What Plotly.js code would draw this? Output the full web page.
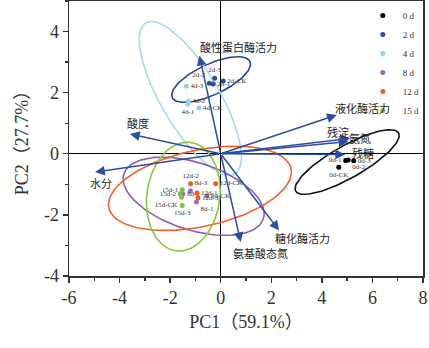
<!DOCTYPE html>
<html><head><meta charset="utf-8">
<script src="https://cdn.plot.ly/plotly-3.0.1.min.js"></script>
<style>html,body{margin:0;padding:0;background:#fff}#chart{width:429px;height:348px}</style>
</head><body><div id="chart"></div>
<script>
// ---- data ----
var groups = ['0 d','2 d','4 d','8 d','12 d','15 d'];
var groupColors = ['#000000','#2b4aa0','#8fd4e2','#9a6bb9','#f05a28','#7dc242'];
var ellipseColors = ['#111111','#2b3f98','#a6dcea','#8e5fb0','#f0622d','#8cc63f'];

var d0x = [4.94, 5.04, 5.26, 4.67], d0y = [-0.22, -0.20, -0.23, -0.44];
var d0lab = ['0d-1','0d-2','0d-3','0d-CK'];
var d2x = [-0.30, -0.45, -0.24, 0.10], d2y = [2.28, 2.31, 2.47, 2.38];
var d2lab = ['2d-1','2d-2','2d-3','2d-CK'];
var d4x = [-1.30, -1.28, -1.36, -0.86], d4y = [1.62, 1.72, 2.21, 1.50];
var d4lab = ['4d-1','4d-2','4d-3','4d-CK'];
var d8x = [-0.96, -1.50, -1.20, -0.55], d8y = [-1.58, -1.32, -1.22, -1.38];
var d8lab = ['8d-1','8d-2','8d-3','8d-CK'];
var d12x = [-0.94, -1.19, -0.90, -0.20], d12y = [-1.28, -0.98, -1.45, -0.98];
var d12lab = ['12d-1','12d-2','12d-3','12d-CK'];
var d15x = [-1.52, -1.60, -1.52, -1.55], d15y = [-1.18, -1.31, -1.69, -1.42];
var d15lab = ['15d-1','15d-2','15d-3','15d-CK'];

// confidence ellipses: centre and covariance (data units)
var ellCx  = [5.00, -0.38, -1.20, -1.07, -0.82, -1.48];
var ellCy  = [-0.27, 2.43, 1.81, -1.39, -1.13, -1.40];
var covXX  = [4.24, 2.43, 4.08, 7.78, 13.10, 2.13];
var covYY  = [1.117, 0.557, 6.35, 1.638, 1.904, 3.17];
var covXY  = [1.79, 0.79, -3.88, -1.59, 1.92, 0.29];

// loading vectors
var loadNames = ['酸性蛋白酶活力','液化酶活力','残淀','氨氮','残糖','酸度','水分','糖化酶活力','氨基酸态氮'];
var loadX = [-0.84, 4.59, 5.12, 5.05, 4.92, -3.59, -4.97, 2.31, 0.79];
var loadY = [3.21, 1.27, 0.50, 0.40, -0.02, 0.65, -0.60, -2.51, -2.89];
var labX  = [0.70, 5.61, 4.63, 5.51, 5.64, -3.26, -4.73, 3.24, 1.56];
var labY  = [3.49, 1.47, 0.71, 0.49, 0.02, 0.98, -0.98, -2.78, -3.27];

var xTickVals = [-6,-4,-2,0,2,4,6,8], xTickText = ['-6','-4','-2','0','2','4','6','8'];
var yTickVals = [-4,-2,0,2,4], yTickText = ['-4','-2','0','2','4'];

// ---- build ----
var pts = [[d0x,d0y,d0lab],[d2x,d2y,d2lab],[d4x,d4y,d4lab],[d8x,d8y,d8lab],[d12x,d12y,d12lab],[d15x,d15y,d15lab]];
var textPos = [
  ['middle left','bottom right','middle right','bottom center'],
  ['middle right','top left','top center','middle right'],
  ['bottom center','middle right','middle right','middle right'],
  ['bottom right','middle right','top right','middle right'],
  ['middle right','top center','middle right','middle right'],
  ['middle left','middle left','bottom center','bottom left']
];
var traces = [];
for (var g = 0; g < groups.length; g++) {
  var l11 = Math.sqrt(covXX[g]), l21 = covXY[g]/l11, l22 = Math.sqrt(covYY[g] - l21*l21);
  var ex = [], ey = [];
  for (var i = 0; i <= 120; i++) {
    var t = 2*Math.PI*i/120;
    ex.push(ellCx[g] + l11*Math.cos(t));
    ey.push(ellCy[g] + l21*Math.cos(t) + l22*Math.sin(t));
  }
  traces.push({x: ex, y: ey, mode: 'lines', showlegend: false, hoverinfo: 'skip',
    line: {color: ellipseColors[g], width: 1.6}});
}
for (var g = 0; g < groups.length; g++) {
  traces.push({x: pts[g][0], y: pts[g][1], text: pts[g][2], name: groups[g],
    mode: 'markers+text', textposition: textPos[g],
    textfont: {family: 'Liberation Serif, serif', size: 7, color: '#333'},
    marker: {color: groupColors[g], size: 5}});
}

var arrowColor = '#2f4d9f';
var annotations = [];
for (var k = 0; k < loadNames.length; k++) {
  annotations.push({x: loadX[k], y: loadY[k], ax: 0, ay: 0, xref: 'x', yref: 'y', axref: 'x', ayref: 'y',
    text: '', showarrow: true, arrowhead: 2, arrowsize: 1.3, arrowwidth: 1.5, arrowcolor: arrowColor,
    standoff: 0, startstandoff: 0});
  annotations.push({x: labX[k], y: labY[k], xref: 'x', yref: 'y', text: loadNames[k], showarrow: false,
    font: {family: 'Liberation Serif, Noto Sans CJK SC, serif', size: 11, color: '#222'}});
}

var axisFont = {family: 'Liberation Serif, serif', size: 18, color: '#333'};
var layout = {
  width: 429, height: 348,
  margin: {l: 69, r: 6, t: 1, b: 72},
  paper_bgcolor: '#fff', plot_bgcolor: '#fff',
  showlegend: true,
  legend: {x: 0.83, y: 1, xanchor: 'left', yanchor: 'top', bgcolor: 'rgba(0,0,0,0)',
    font: {family: 'Liberation Serif, serif', size: 9, color: '#333'}},
  xaxis: {range: [-6, 8], tickmode: 'array', tickvals: xTickVals, ticktext: xTickText,
    ticks: 'outside', ticklen: 5, tickwidth: 1.3, tickcolor: '#333', tickfont: axisFont,
    minor: {tickmode: 'linear', tick0: 0, dtick: 1, ticks: 'outside', ticklen: 3, tickcolor: '#333'},
    showgrid: false, zeroline: true, zerolinecolor: '#000', zerolinewidth: 1.3,
    showline: true, mirror: true, linecolor: '#333', linewidth: 1.5,
    title: {text: 'PC1（59.1%）', font: {family: 'Liberation Serif, Noto Sans CJK SC, serif', size: 18, color: '#333'}, standoff: 8}},
  yaxis: {range: [-4, 5], tickmode: 'array', tickvals: yTickVals, ticktext: yTickText,
    ticks: 'outside', ticklen: 5, tickwidth: 1.3, tickcolor: '#333', tickfont: axisFont,
    minor: {tickmode: 'linear', tick0: 0, dtick: 1, ticks: 'outside', ticklen: 3, tickcolor: '#333'},
    showgrid: false, zeroline: true, zerolinecolor: '#000', zerolinewidth: 1.3,
    showline: true, mirror: true, linecolor: '#333', linewidth: 1.5,
    title: {text: 'PC2（27.7%）', font: {family: 'Liberation Serif, Noto Sans CJK SC, serif', size: 18, color: '#333'}, standoff: 10}},
  annotations: annotations
};
Plotly.newPlot('chart', traces, layout, {displayModeBar: false, staticPlot: true});
</script></body></html>
